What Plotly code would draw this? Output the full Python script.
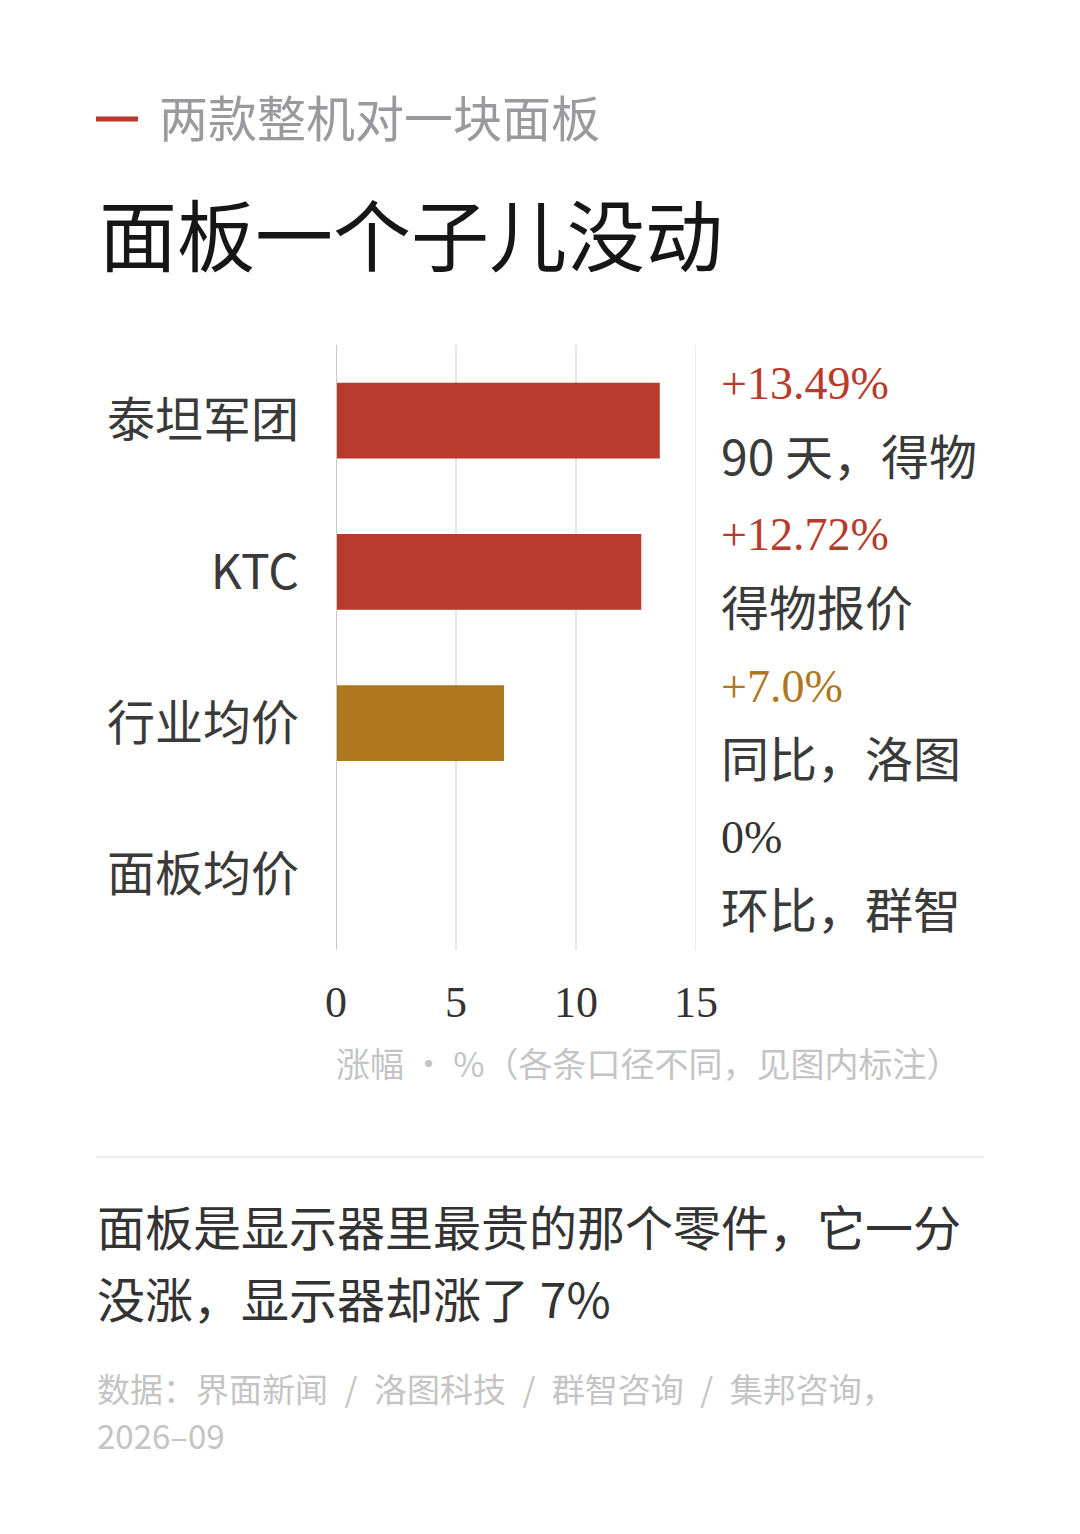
import plotly.graph_objects as go

W, H = 1080, 1534

categories = ["泰坦军团", "KTC", "行业均价", "面板均价"]
values = [13.49, 12.72, 7.0, 0.0]
value_labels = ["+13.49%", "+12.72%", "+7.0%", "0%"]
notes = ["90 天，得物", "得物报价", "同比，洛图", "环比，群智"]
bar_colors = ["#B83A2B", "#B83A2B", "#AE771E", "#B83A2B"]
label_colors = ["#B83A2B", "#B83A2B", "#AE771E", "#333333"]
x_ticks = [0, 5, 10, 15]

kicker = "两款整机对一块面板"
title = "面板一个子儿没动"
axis_note = "涨幅 · %（各条口径不同，见图内标注）"
takeaway_lines = ["面板是显示器里最贵的那个零件，它一分", "没涨，显示器却涨了 7%"]
source_lines = ["数据：界面新闻\u2002/\u2002洛图科技\u2002/\u2002群智咨询\u2002/\u2002集邦咨询，", "2026–09"]

SANS = "Noto Sans CJK SC"
SERIF = "Liberation Serif, Times New Roman, serif"

OFF = 8  # page body margin


def px(x):
    return (x - OFF) / W


def py(y):
    return 1 - (y - OFF) / H


fig = go.Figure()
fig.add_trace(go.Bar(
    y=categories, x=values, orientation="h",
    marker=dict(color=bar_colors, line=dict(width=0)),
    width=0.5, hoverinfo="skip",
))

x_left, x_right = 336, 696
y_top, y_bot = 345, 950

fig.update_layout(
    width=W, height=H,
    margin=dict(l=0, r=0, t=0, b=0, autoexpand=False),
    paper_bgcolor="white", plot_bgcolor="white",
    showlegend=False,
    xaxis=dict(
        domain=[px(x_left), px(x_right)],
        range=[0, 15],
        tickvals=x_ticks,
        showgrid=True, gridcolor="#E6E6E6", gridwidth=1.5,
        zeroline=False, showline=False, automargin=False,
        tickfont=dict(family=SERIF, size=44, color="#333333"),
        ticks="", ticklabelstandoff=22,
    ),
    yaxis=dict(
        domain=[py(y_bot), py(y_top)],
        categoryorder="array", categoryarray=categories,
        autorange="reversed",
        showgrid=False, zeroline=False, showline=False, automargin=False,
        tickfont=dict(family=SANS, size=48, color="#3A3A3A"),
        ticks="", ticklabelstandoff=36,
    ),
)

# zero baseline and right edge grid line
fig.add_shape(type="line", xref="x", yref="paper", x0=0, x1=0,
              y0=py(y_bot), y1=py(y_top), line=dict(color="#C8C8C8", width=2))
fig.add_shape(type="line", xref="x", yref="paper", x0=x_ticks[-1], x1=x_ticks[-1],
              y0=py(y_bot), y1=py(y_top), line=dict(color="#E6E6E6", width=1.5))

# right-side annotations
for cat, vl, note, col in zip(categories, value_labels, notes, label_colors):
    fig.add_annotation(x=px(719), xref="paper", y=cat, yref="y",
                       text=vl, showarrow=False, xanchor="left", yanchor="middle",
                       yshift=37, font=dict(family=SERIF, size=46, color=col))
    fig.add_annotation(x=px(719), xref="paper", y=cat, yref="y",
                       text=note, showarrow=False, xanchor="left", yanchor="middle",
                       yshift=-33, font=dict(family=SANS, size=48, color="#3A3A3A"))

# kicker dash
fig.add_shape(type="line", xref="paper", yref="paper",
              x0=px(96), x1=px(138), y0=py(119), y1=py(119),
              line=dict(color="#B83A2B", width=5))
fig.add_annotation(x=px(157), y=py(116), xref="paper", yref="paper",
                   text=kicker, showarrow=False, xanchor="left", yanchor="middle",
                   font=dict(family=SANS, size=49, color="#9A9A9E"))
fig.add_annotation(x=px(97), y=py(232), xref="paper", yref="paper",
                   text=title, showarrow=False, xanchor="left", yanchor="middle",
                   font=dict(family=SANS, size=78, color="#161616"))

# axis note
fig.add_annotation(x=px(334), y=py(1062), xref="paper", yref="paper",
                   text=axis_note, showarrow=False, xanchor="left", yanchor="middle",
                   font=dict(family=SANS, size=34, color="#C4C4C4"))

# separator
fig.add_shape(type="line", xref="paper", yref="paper",
              x0=px(96), x1=px(984), y0=py(1157), y1=py(1157),
              line=dict(color="#EBEBEB", width=2))

for line, yc in zip(takeaway_lines, [1225, 1297]):
    fig.add_annotation(x=px(95), y=py(yc), xref="paper", yref="paper",
                       text=line, showarrow=False, xanchor="left", yanchor="middle",
                       font=dict(family=SANS, size=48, color="#333333"))

for line, yc in zip(source_lines, [1388, 1435]):
    fig.add_annotation(x=px(95), y=py(yc), xref="paper", yref="paper",
                       text=line, showarrow=False, xanchor="left", yanchor="middle",
                       font=dict(family=SANS, size=33, color="#C4C4C4"))

fig.write_html("out.html")
